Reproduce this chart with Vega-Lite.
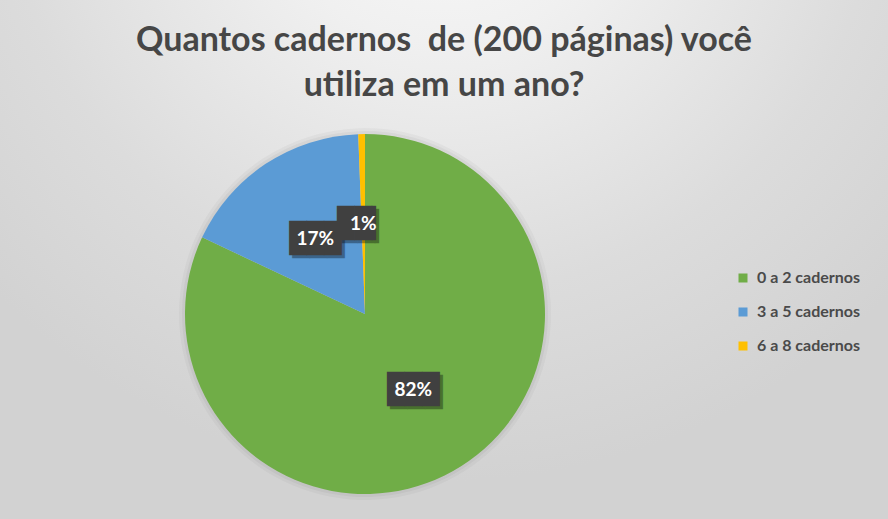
{
  "$schema": "https://vega.github.io/schema/vega-lite/v6.json",
  "autosize": "none",
  "width": 1046,
  "height": 628,
  "padding": {"left": -158, "top": 0, "right": 0, "bottom": -109},
  "background": "#e2e2e2",
  "config": {
    "view": {"stroke": null},
    "font": "Lato"
  },
  "title": {
    "text": ["Quantos cadernos \u00a0de (200 páginas) você", "utiliza em um ano?"],
    "orient": "top",
    "anchor": "middle",
    "frame": "group",
    "baseline": "top",
    "offset": -103,
    "dx": 79,
    "font": "Lato",
    "fontSize": 34,
    "fontWeight": "bold",
    "color": "#464646",
    "lineHeight": 45
  },
  "data": {
    "values": [
      {"categoria": "0 a 2 cadernos", "valor": 0.82, "ordem": 1},
      {"categoria": "3 a 5 cadernos", "valor": 0.174, "ordem": 2},
      {"categoria": "6 a 8 cadernos", "valor": 0.006, "ordem": 3}
    ]
  },
  "transform": [
    {"calculate": "datum.valor >= 0.1 ? '███' : '██▎'", "as": "caixa"}
  ],
  "layer": [
    {
      "data": {"values": [{"fundo": 1}]},
      "mark": {
        "type": "rect",
        "color": {
          "gradient": "radial",
          "x1": 0.575, "y1": 0.06, "r1": 0,
          "x2": 0.575, "y2": 0.06, "r2": 0.6,
          "stops": [
            {"offset": 0, "color": "#fbfbfb"},
            {"offset": 0.3, "color": "#f0f0f0"},
            {"offset": 0.7, "color": "#dcdcdc"},
            {"offset": 1, "color": "#d2d2d2"}
          ]
        }
      }
    },
    {
      "mark": {"type": "arc", "outerRadius": 186, "fill": "#000000", "opacity": 0.03},
      "encoding": {
        "theta": {"field": "valor", "type": "quantitative", "stack": true},
        "order": {"field": "ordem", "type": "quantitative"}
      }
    },
    {
      "mark": {"type": "arc", "outerRadius": 183, "fill": "#000000", "opacity": 0.04},
      "encoding": {
        "theta": {"field": "valor", "type": "quantitative", "stack": true},
        "order": {"field": "ordem", "type": "quantitative"}
      }
    },
    {
      "mark": {"type": "arc", "outerRadius": 180},
      "encoding": {
        "theta": {"field": "valor", "type": "quantitative", "stack": true},
        "order": {"field": "ordem", "type": "quantitative"},
        "color": {
          "field": "categoria",
          "type": "nominal",
          "scale": {
            "domain": ["0 a 2 cadernos", "3 a 5 cadernos", "6 a 8 cadernos"],
            "range": ["#70AD47", "#5B9BD5", "#FFC000"]
          },
          "legend": {
            "title": null,
            "orient": "none",
            "legendX": 893,
            "legendY": 270,
            "symbolType": "square",
            "symbolSize": 81,
            "symbolStrokeWidth": 0,
            "labelFont": "Lato",
            "labelFontSize": 16,
            "labelColor": "#4a4a4a",
            "labelFontWeight": "bold",
            "rowPadding": 18,
            "labelOffset": 6
          }
        }
      }
    },
    {
      "mark": {"type": "text", "radius": 90, "font": "DejaVu Sans Mono", "fontSize": 29, "color": "#000000", "opacity": 0.35, "dx": 3, "dy": 3, "baseline": "middle"},
      "encoding": {
        "theta": {"field": "valor", "type": "quantitative", "stack": true},
        "order": {"field": "ordem", "type": "quantitative"},
        "text": {"field": "caixa"}
      }
    },
    {
      "mark": {"type": "text", "radius": 90, "font": "DejaVu Sans Mono", "fontSize": 29, "color": "#404040", "baseline": "middle"},
      "encoding": {
        "theta": {"field": "valor", "type": "quantitative", "stack": true},
        "order": {"field": "ordem", "type": "quantitative"},
        "text": {"field": "caixa"}
      }
    },
    {
      "mark": {"type": "text", "radius": 90, "font": "Lato", "fontSize": 19, "fontWeight": "bold", "color": "#ffffff", "baseline": "middle"},
      "encoding": {
        "theta": {"field": "valor", "type": "quantitative", "stack": true},
        "order": {"field": "ordem", "type": "quantitative"},
        "text": {"field": "valor", "type": "quantitative", "format": ".0%"}
      }
    }
  ]
}
